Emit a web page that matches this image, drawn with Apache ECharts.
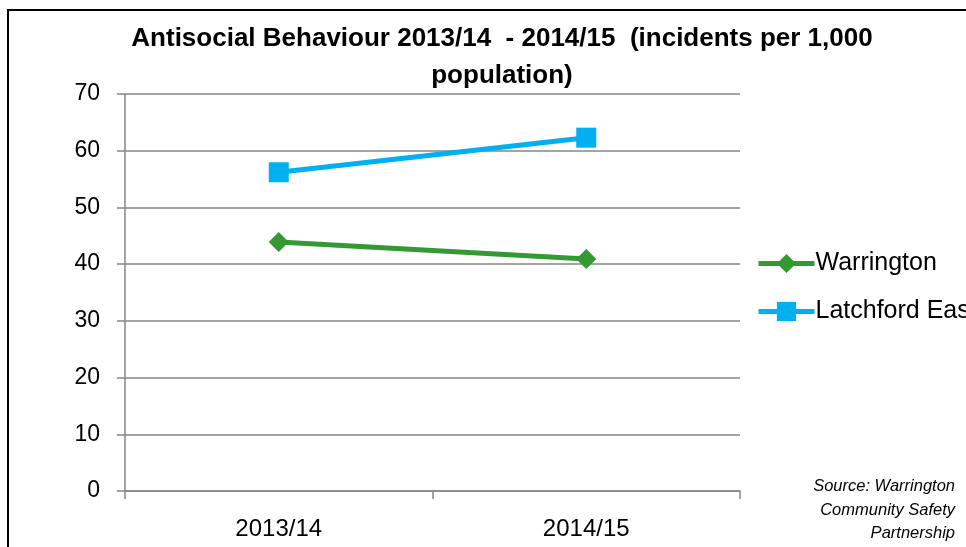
<!DOCTYPE html>
<html><head><meta charset="utf-8">
<script src="https://cdn.jsdelivr.net/npm/echarts@6/dist/echarts.min.js"></script>
<style>html,body{margin:0;padding:0;background:#fff}#c{width:966px;height:547px}</style>
</head><body><div id="c"></div>
<script>
const categories = ['2013/14', '2014/15'];
const warrington = [43.9, 40.9];
const latchfordEast = [56.2, 62.3];
const yTicks = [0, 10, 20, 30, 40, 50, 60, 70];
const titleText = 'Antisocial Behaviour 2013/14  - 2014/15  (incidents per 1,000\npopulation)';
const sourceText = 'Source: Warrington\nCommunity Safety\nPartnership';

const FONT = '"Liberation Sans", sans-serif';
const chart = echarts.init(document.getElementById('c'));
chart.setOption({
  animation: false,
  backgroundColor: '#fff',
  title: {
    text: titleText, left: 497, top: 15, textAlign: 'center',
    textStyle: { fontFamily: FONT, fontWeight: 'bold', fontSize: 26, color: '#000', lineHeight: 37 }
  },
  grid: { left: 125, right: 226, top: 94, bottom: 56, containLabel: false },
  legend: {
    orient: 'vertical', left: 751, top: 246, itemWidth: 56, itemHeight: 24, itemGap: 23,
    textStyle: { fontFamily: FONT, fontSize: 25, color: '#000', padding: [0, 0, 0, -4] },
    lineStyle: { width: 5 },
    data: ['Warrington', 'Latchford East']
  },
  xAxis: {
    type: 'category', data: categories, boundaryGap: true,
    axisLine: { lineStyle: { color: '#868686', width: 1.5 } },
    axisTick: { show: true, length: 8, lineStyle: { color: '#868686', width: 1.5 } },
    axisLabel: { fontFamily: FONT, fontSize: 24, color: '#000', margin: 26 }
  },
  yAxis: {
    type: 'value', min: 0, max: 70, interval: 10,
    axisLine: { show: true, lineStyle: { color: '#868686', width: 1.5 } },
    axisTick: { show: true, length: 8, lineStyle: { color: '#868686', width: 1.5 } },
    axisLabel: { fontFamily: FONT, fontSize: 23, color: '#000', margin: 25,
      formatter: v => yTicks.includes(v) ? String(v) : '' },
    splitLine: { lineStyle: { color: '#868686', width: 1.5 } }
  },
  series: [
    { name: 'Warrington', type: 'line', data: warrington, symbol: 'diamond', symbolSize: 20,
      lineStyle: { color: '#339933', width: 5 }, itemStyle: { color: '#339933' } },
    { name: 'Latchford East', type: 'line', data: latchfordEast, symbol: 'rect', symbolSize: 20,
      lineStyle: { color: '#00b0f0', width: 5 }, itemStyle: { color: '#00b0f0' } }
  ],
  graphic: [
    { type: 'rect', shape: { x: 8, y: 10, width: 1000, height: 600 }, silent: true,
      style: { fill: 'none', stroke: '#000', lineWidth: 2 } },
    { type: 'text', x: 955, y: 475,
      style: { text: sourceText, fontFamily: FONT, fontStyle: 'italic', fontSize: 16.5, lineHeight: 23.5,
        fill: '#000', align: 'right', verticalAlign: 'top' } }
  ]
});
</script></body></html>
